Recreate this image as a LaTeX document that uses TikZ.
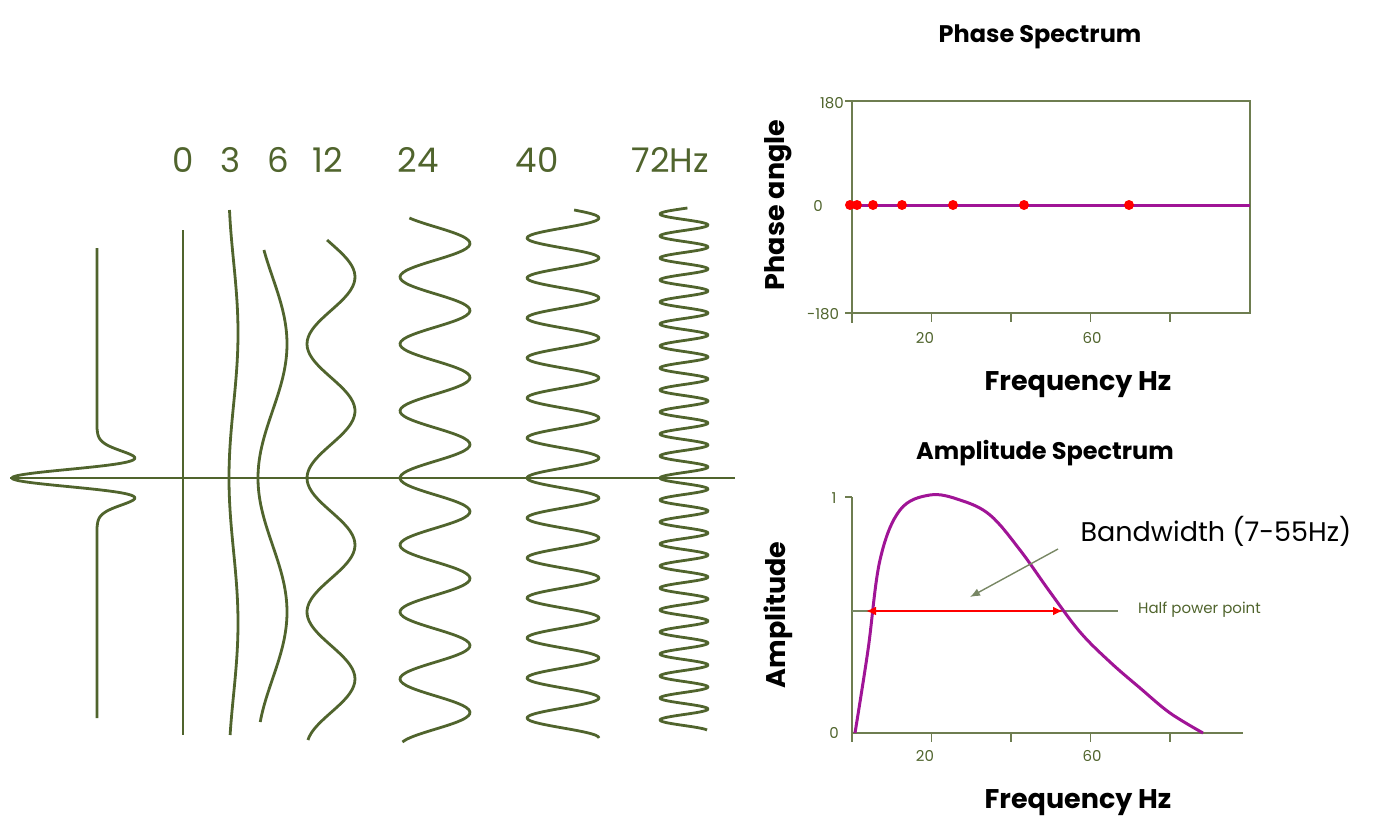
\documentclass[tikz,border=0pt]{standalone}
\usepackage{fontspec}
\setmainfont{Poppins}
\usetikzlibrary{arrows.meta}
\definecolor{olv}{RGB}{80,100,45}
\definecolor{axc}{RGB}{110,125,80}
\definecolor{gry}{RGB}{120,135,100}
\definecolor{purp}{RGB}{160,20,150}
\tikzset{trace/.style={olv,line width=2.8pt,line join=round},
 axis/.style={axc,line width=1.8pt},
 lbl/.style={olv,font=\fontsize{34}{34}\selectfont,inner sep=0},
 tick/.style={olv,font=\fontsize{15}{15}\selectfont,inner sep=0},
 ttl/.style={black,font=\fontsize{24}{24}\selectfont\bfseries,inner sep=0}}
\begin{document}
\begin{tikzpicture}[x=1pt,y=-1pt]
\useasboundingbox (0,0) rectangle (1400,840);
% baseline
\draw[trace] (10,478) -- (735,478);
% wavelet
\draw[trace] (97,248) -- (97,403) -- plot[domain=-75:75,samples=151,smooth] ({97-85*(1-2*(\x/16.3)^2)*exp(-(\x/16.3)^2)},{478+\x}) -- (97,718);
% 0 Hz
\draw[trace] (183,230) -- (183,735);
% sinusoids
\draw[trace] plot[domain=210:735,samples=80,smooth] ({229+4.5*(1-cos(360/290*(\x-478)))},\x);
\draw[trace] plot[domain=250:722,samples=100,smooth] ({258+14.5*(1-cos(360/268*(\x-478)))},\x);
\draw[trace] plot[domain=240:740,samples=140,smooth] ({307+24*(1-cos(360/134*(\x-478)))},\x);
\draw[trace] plot[domain=218:742,samples=260,smooth] ({400+35*(1-cos(360/67*(\x-478)))},\x);
\draw[trace] plot[domain=210:738,samples=400,smooth] ({527+36*(1-cos(9*(\x-478)))},\x);
\draw[trace] plot[domain=208:730,samples=700,smooth] ({660+24*(1-cos(360/22*(\x-478)))},\x);
% labels
\node[lbl] (l0) at (183,160) {0};
\node[lbl] (l3) at (231,160) {3};
\node[lbl] (l6) at (278,160) {6};
\node[lbl] (l12) at (328,160) {12};
\node[lbl] (l24) at (418,160) {24};
\node[lbl] (l40) at (537,160) {40};
\node[lbl] (l72) at (670,160) {72Hz};
% phase spectrum
\node[ttl] (pt) at (1040,37) {Phase Spectrum};
\draw[axis] (852,101) rectangle (1250,313);
\draw[axis] (852,313) -- (852,323);
\foreach \k in {1,...,4} \draw[axis] ({852+79.5*\k},313) -- ({852+79.5*\k},322);
\draw[axis] (845,101) -- (852,101) (845,313) -- (852,313);
\node[tick] (p180) at (832,103) {180};
\node[tick] (p0) at (818,206) {0};
\node[tick] (pm180) at (823,314) {-180};
\node[tick] (p20) at (925,338) {20};
\node[tick] (p60) at (1092,338) {60};
\draw[purp,line width=3pt] (852,205) -- (1250,205);
\foreach \x in {850,857,873,902,953,1024,1129} \fill[red] (\x,205) circle (5);
\node[ttl,rotate=90,font=\fontsize{27}{27}\selectfont\bfseries] (pa) at (778,205) {Phase angle};
\node[ttl,font=\fontsize{27}{27}\selectfont\bfseries] (pf) at (1078,385) {Frequency Hz};
% amplitude spectrum
\node[ttl] (at) at (1045,453) {Amplitude Spectrum};
\draw[axis] (852,497) -- (852,742);
\draw[axis] (852,733) -- (1243,733);
\foreach \k in {1,...,4} \draw[axis] ({852+79.5*\k},733) -- ({852+79.5*\k},742);
\draw[axis] (845,497) -- (852,497);
\node[tick] (a1) at (834,498) {1};
\node[tick] (a0) at (834,733) {0};
\node[tick] (a20) at (925,756) {20};
\node[tick] (a60) at (1092,756) {60};
\draw[gry,line width=1.6pt] (852,611) -- (1118,611);
\node[tick,anchor=west] (hp) at (1138,610) {Half power point};
\draw[purp,line width=3pt] plot[smooth,tension=0.6] coordinates {(855,733) (868,650) (880,560) (900,510) (930,495) (960,500) (990,515) (1020,550) (1050,592) (1080,632) (1110,662) (1140,688) (1170,713) (1203,733)};
\coordinate (hl) at (866,611);
\coordinate (hr) at (1063,611);
\draw[red,line width=2.4pt,{Latex[length=10pt,width=9pt]}-{Latex[length=10pt,width=9pt]}] (hl) -- (hr);
\node[black,font=\fontsize{27}{27}\selectfont,inner sep=0] (bw) at (1216,531) {Bandwidth (7-55Hz)};
\coordinate (bwe) at (1058,549);
\coordinate (bwt) at (970,597);
\draw[gry,line width=1.4pt,-{Latex[length=10pt,width=8pt]}] (bwe) -- (bwt);
\node[ttl,rotate=90,font=\fontsize{27}{27}\selectfont\bfseries] (aa) at (778,615) {Amplitude};
\node[ttl,font=\fontsize{27}{27}\selectfont\bfseries] (af) at (1078,803) {Frequency Hz};
\end{tikzpicture}
\end{document}
